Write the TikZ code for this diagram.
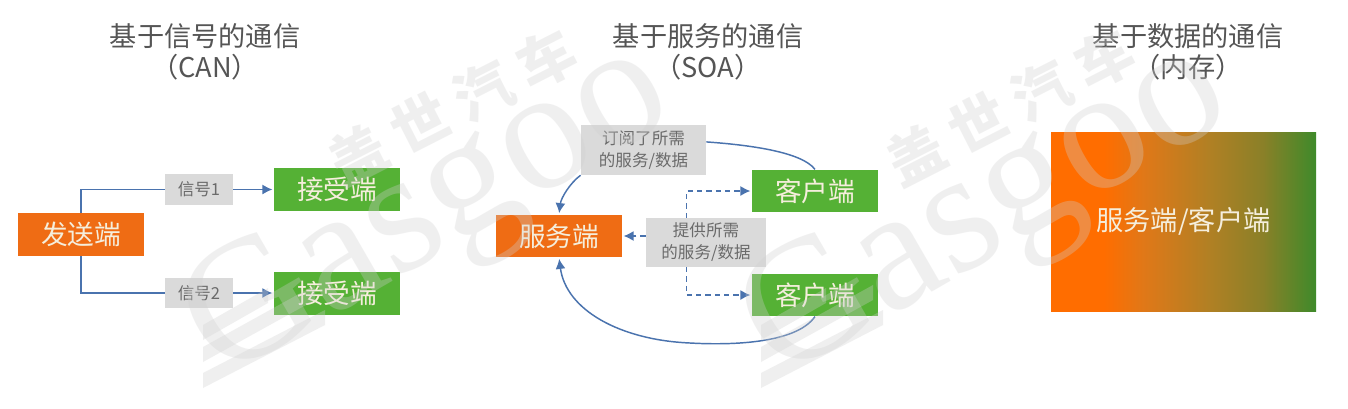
\documentclass[tikz,border=0pt]{standalone}
\usepackage{fontspec}
\setmainfont{Noto Sans CJK SC}
\newfontfamily\markfont{Liberation Serif}
\usetikzlibrary{arrows.meta,calc}
\definecolor{orangebox}{HTML}{EF6C14}
\definecolor{greenbox}{HTML}{55B135}
\definecolor{labelgray}{HTML}{DADADA}
\definecolor{linkblue}{HTML}{4A73AE}
\definecolor{titlegray}{HTML}{555555}
\definecolor{labeltext}{HTML}{6A6A6A}
\definecolor{boxtext}{HTML}{F5EEDC}
\definecolor{markgray}{HTML}{D0D0D0}
\definecolor{gradA}{HTML}{FF6D00}
\definecolor{gradB}{HTML}{E07818}
\definecolor{gradC}{HTML}{B08024}
\definecolor{gradE}{HTML}{8A8028}
\definecolor{gradD}{HTML}{3E8A2A}
\pgfdeclarehorizontalshading{mergeshade}{100bp}{
  color(0bp)=(gradA);
  color(35bp)=(gradA);
  color(42.5bp)=(gradB);
  color(55bp)=(gradC);
  color(65bp)=(gradE);
  color(75bp)=(gradD);
  color(100bp)=(gradD)}
\tikzset{
  x=0.75pt,y=-0.75pt,
  titletext/.style={text=titlegray,font=\fontsize{20.4}{23.5}\selectfont,align=center,inner sep=0pt},
  sendbox/.style={fill=orangebox,text=boxtext,minimum width=94.5pt,minimum height=32pt,inner sep=0pt,font=\fontsize{20}{24}\selectfont},
  recvbox/.style={fill=greenbox,text=boxtext,minimum width=94.5pt,minimum height=32pt,inner sep=0pt,font=\fontsize{20}{24}\selectfont},
  graylabel/.style={fill=labelgray,text=labeltext,inner sep=0pt,align=center,font=\fontsize{12.4}{16.5}\selectfont},
  solidlink/.style={draw=linkblue,line width=1.1pt,-{Latex[length=7.5pt,width=7.5pt]}},
  plainlink/.style={draw=linkblue,line width=1.1pt},
  dashlink/.style={draw=linkblue,line width=1.1pt,dash pattern=on 4pt off 3pt,-{Latex[length=7.5pt,width=7.5pt]}},
  markword/.style={text=markgray,opacity=.32,inner sep=0pt},
  markbar/.style={fill=markgray,opacity=.32}
}
\begin{document}
\begin{tikzpicture}
\useasboundingbox (0,0) rectangle (1348,408);
\fill[white] (0,0) rectangle (1348,408);
% titles
\node[titletext] (t1) at (205,51.5) {基于信号的通信\\（CAN）};
\node[titletext] (t2) at (708,51.5) {基于服务的通信\\（SOA）};
\node[titletext] (t3) at (1188,51.5) {基于数据的通信\\（内存）};
% CAN
\node[sendbox] (send) at (81,234.5) {发送端};
\node[recvbox] (recv1) at (337,189.5) {接受端};
\node[recvbox] (recv2) at (337,293.5) {接受端};
\node[graylabel,minimum width=51pt,minimum height=23pt] (sig1) at (199,189.5) {信号1};
\node[graylabel,minimum width=51pt,minimum height=23pt] (sig2) at (199,293) {信号2};
\draw[plainlink] (send.north) |- (sig1.west);
\draw[plainlink] (send.south) |- (sig2.west);
\draw[solidlink,shorten >=1pt] (sig1.east) -- (recv1.west);
\draw[solidlink,shorten >=1pt] (sig2.east) -- (recv2.west|-sig2.east);
% SOA
\node[sendbox] (server) at (559,236) {服务端};
\node[recvbox] (client1) at (815,191) {客户端};
\node[recvbox] (client2) at (815,295) {客户端};
\node[graylabel,minimum width=94pt,minimum height=37.5pt] (subs) at (643.5,150) {订阅了所需\\的服务/数据};
\node[graylabel,minimum width=90pt,minimum height=36.5pt] (prov) at (706,242.5) {提供所需\\的服务/数据};
\coordinate (subsout) at ($(subs.north east)!0.34!(subs.south east)$);
\coordinate (provup) at ($(prov.north west)!0.34!(prov.north east)$);
\coordinate (provdown) at ($(prov.south west)!0.34!(prov.south east)$);
\draw[plainlink] (subsout) .. controls (750,145) and (802,152) .. (client1.north);
\draw[solidlink,shorten >=1pt] (subs.south west) .. controls (570,183) and (561,198) .. (server.north);
\draw[dashlink,shorten >=1pt] (prov.west|-server.east) -- (server.east);
\draw[dashlink,shorten >=1pt] (provup) |- (client1.west);
\draw[dashlink,shorten >=1pt] (provdown) |- (client2.west);
\draw[solidlink,shorten >=1pt] (client2.south) .. controls (795,345) and (725,345) .. (690,343) .. controls (620,340) and (566,310) .. (server.south);
% data
\node[minimum width=198.75pt,minimum height=134.25pt,inner sep=0pt,shading=mergeshade,text=boxtext,font=\fontsize{20.4}{24}\selectfont] (mem) at (1183.5,221.5) {服务端/客户端};
% watermarks
\foreach \dx in {0,558}{
  \begin{scope}[xshift=\dx*0.75pt]
    \node[markword,rotate=30,font=\markfont\fontsize{130}{135}\selectfont] (gas\dx) at (430,215) {Gasgoo};
    \node[markword,rotate=27,font=\bfseries\fontsize{43}{46}\selectfont] (cn\dx) at (452,107) {盖\hspace{10pt}世\hspace{10pt}汽\hspace{10pt}车};
    \fill[markbar] (203,325) -- (268,288) -- (268,303) -- (203,340) -- cycle;
    \fill[markbar] (203,347) -- (315,285) -- (315,300) -- (203,362) -- cycle;
    \fill[markbar] (203,373) -- (325,310) -- (325,325) -- (203,388) -- cycle;
  \end{scope}
}
\end{tikzpicture}
\end{document}
